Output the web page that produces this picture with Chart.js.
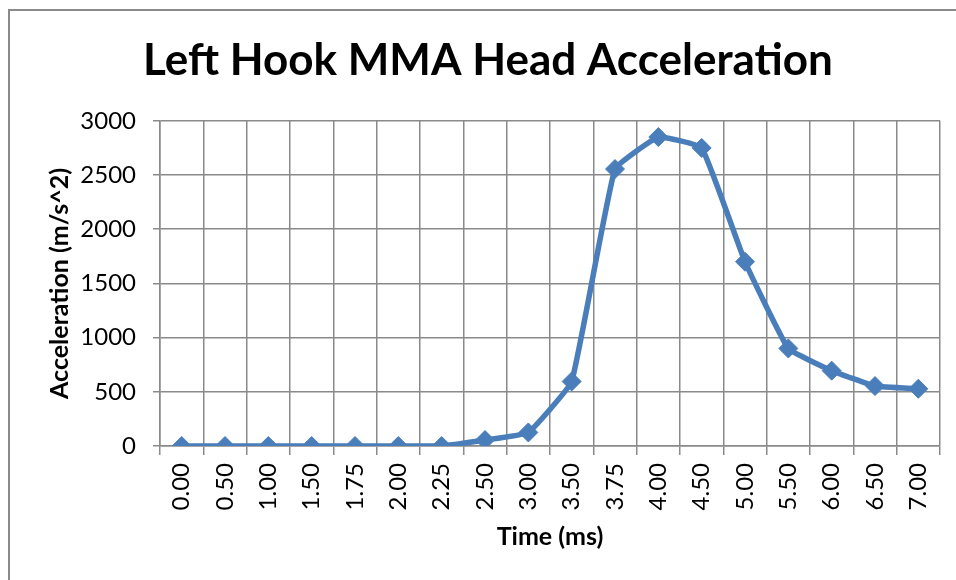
<!DOCTYPE html>
<html>
<head>
<meta charset="utf-8">
<script src="https://cdn.jsdelivr.net/npm/chart.js@4.4.1/dist/chart.umd.min.js"></script>
<style>
  html, body { margin: 0; padding: 0; background: #fff; overflow: hidden; }
  #frame { position: absolute; left: 8px; top: 9px; width: 1200px; height: 900px;
           border-left: 2px solid #8a8a8a; border-top: 2px solid #8a8a8a; }
  #wrap { position: absolute; left: 0; top: 0; width: 956px; height: 580px; }
</style>
</head>
<body>
<div id="frame"></div>
<div id="wrap"><canvas id="accelChart"></canvas></div>
<script>
// dados
const timeLabels = ['0.00', '0.50', '1.00', '1.50', '1.75', '2.00', '2.25', '2.50', '3.00',
                    '3.50', '3.75', '4.00', '4.50', '5.00', '5.50', '6.00', '6.50', '7.00'];
const accelValues = [0, 0, 0, 0, 0, 0, 0, 55, 125, 595, 2555, 2850, 2750, 1700, 900, 695, 553, 528];
const yTicks = [0, 500, 1000, 1500, 2000, 2500, 3000];

const fontFamily = "Lato, 'Open Sans', sans-serif";
const gridColor = '#8a8a8a';
const lineColor = '#4a7ebb';

Chart.defaults.font.family = fontFamily;
Chart.defaults.color = '#000';

const ctx = document.getElementById('accelChart').getContext('2d');
new Chart(ctx, {
    type: 'line',
    data: {
        labels: timeLabels,
        datasets: [{
            label: 'Head Acceleration',
            data: accelValues,
            borderColor: lineColor,
            backgroundColor: lineColor,
            borderWidth: 5.5,
            tension: 0.1,
            pointStyle: 'rectRot',
            pointRadius: 9.5,
            pointBorderWidth: 1,
            pointBackgroundColor: lineColor,
            pointBorderColor: lineColor,
            fill: false
        }]
    },
    options: {
        responsive: true,
        maintainAspectRatio: false,
        animation: false,
        layout: { padding: { left: 36, right: 16, top: 0, bottom: 0 } },
        plugins: {
            legend: { display: false },
            tooltip: { enabled: false },
            title: {
                display: true,
                text: 'Left Hook MMA Head Acceleration',
                color: '#000',
                font: { size: 44, weight: 'bold', family: fontFamily },
                padding: { top: 34, bottom: 34 }
            }
        },
        scales: {
            x: {
                type: 'category',
                offset: true,
                grid: { offset: true, color: gridColor, lineWidth: 1.5, tickLength: 9, tickColor: gridColor },
                border: { color: gridColor, width: 1.5 },
                ticks: {
                    minRotation: 90,
                    maxRotation: 90,
                    padding: 8,
                    color: '#000',
                    font: { size: 24 }
                },
                title: {
                    display: true,
                    text: 'Time (ms)',
                    color: '#000',
                    font: { size: 25, weight: 'bold' },
                    padding: { top: 0, bottom: 28 }
                },
                afterFit: (scale) => { scale.height = 134; }
            },
            y: {
                min: 0,
                max: 3000,
                grid: { color: gridColor, lineWidth: 1.5, tickLength: 7, tickColor: gridColor },
                border: { color: gridColor, width: 1.5 },
                afterBuildTicks: (scale) => { scale.ticks = yTicks.map(v => ({ value: v })); },
                ticks: {
                    padding: 17,
                    color: '#000',
                    font: { size: 24 },
                    callback: (v) => String(v)
                },
                title: {
                    display: true,
                    text: 'Acceleration (m/s^2)',
                    color: '#000',
                    font: { size: 25, weight: 'bold' },
                    padding: { top: 9, bottom: 0 }
                },
                afterFit: (scale) => { scale.width = 124; }
            }
        }
    }
});
</script>
</body>
</html>
